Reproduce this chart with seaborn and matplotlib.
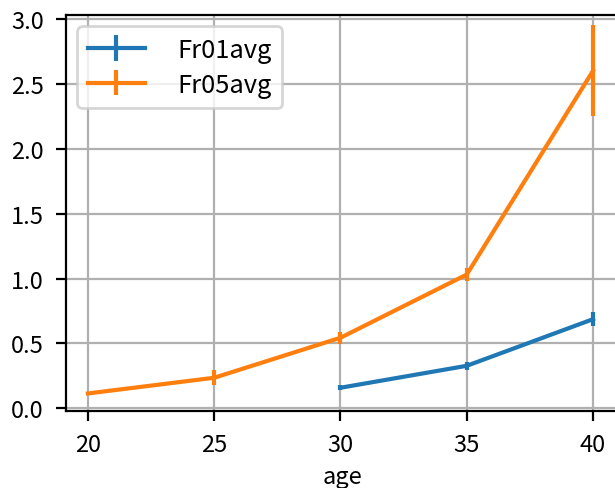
import numpy as np
import pandas as pd
import matplotlib
matplotlib.use("Agg")
import matplotlib.pyplot as plt
import seaborn as sns

plt.rcParams['font.family'] = ['Noto Sans CJK JP', 'DejaVu Sans']
plt.rcParams['font.size'] = 8.5

age = [20, 25, 30, 35, 40]
fr01 = [np.nan, np.nan, 0.159, 0.328, 0.687]
fr01_err = [np.nan, np.nan, 0.02, 0.03, 0.055]
fr05 = [0.115, 0.236, 0.544, 1.031, 2.60]
fr05_err = [0.01, 0.058, 0.045, 0.05, 0.35]

series = ["Fr01avg", "Fr05avg"]
colors = ["#1f77b4", "#ff7f0e"]

df = pd.DataFrame({"age": age, "Fr01avg": fr01, "Fr05avg": fr05})
errs = {"Fr01avg": fr01_err, "Fr05avg": fr05_err}
long = df.melt(id_vars="age", var_name="series", value_name="value").dropna()

fig = plt.figure(figsize=(3.075, 2.445), dpi=200)
ax = fig.add_axes([0.1073, 0.1575, 0.898, 0.8098])

sns.lineplot(data=long, x="age", y="value", hue="series", hue_order=series,
             palette=colors, linewidth=1.5, legend=False, ax=ax)

handles = []
for i, name in enumerate(series):
    eb = ax.errorbar(df["age"], df[name], yerr=errs[name], fmt="none",
                     ecolor=colors[i], elinewidth=1.5)
    handles.append((ax.lines[i], eb))

ax.legend(handles, series, loc="upper left", fontsize=9.2, handlelength=2.25,
          handletextpad=1.25, borderaxespad=0.45, labelspacing=0.35,
          borderpad=0.4)
ax.grid(True)
ax.set_xlim(19.13, 41)
ax.set_ylim(-0.02, 3.03)
ax.set_xticks([20, 25, 30, 35, 40])
ax.tick_params(labelsize=8.5, pad=4.5)
ax.set_xlabel("age", va="center")
ax.xaxis.set_label_coords(0.5, -0.165)
ax.set_ylabel("")

fig.savefig("out.png", dpi=200)
